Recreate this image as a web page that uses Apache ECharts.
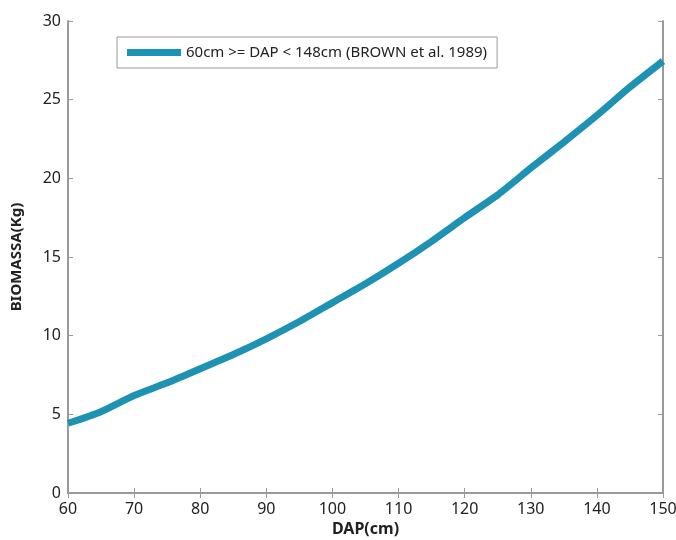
<!DOCTYPE html>
<html>
<head>
<meta charset="utf-8">
<script src="https://cdn.jsdelivr.net/npm/echarts@6/dist/echarts.min.js"></script>
<style>html,body{margin:0;padding:0;background:#fff}#c{width:676px;height:540px}</style>
</head>
<body>
<div id="c"></div>
<script>
const dap = [60, 65, 70, 75, 80, 85, 90, 95, 100, 105, 110, 115, 120, 125, 130, 135, 140, 145, 150];
const biomassa = [4.43, 5.17, 6.2, 7.0, 7.9, 8.8, 9.8, 10.9, 12.1, 13.3, 14.6, 16.0, 17.5, 18.95, 20.65, 22.3, 24.0, 25.8, 27.45];
const seriesName = '60cm >= DAP < 148cm (BROWN et al. 1989)';
const xTitle = 'DAP(cm)';
const yTitle = 'BIOMASSA(Kg)';

const font = 'Noto Sans';
const axisGrey = '#9a9a9a';
const chart = echarts.init(document.getElementById('c'), null, {renderer: 'canvas'});
const axisCommon = {
  axisLine: {show: true, lineStyle: {color: axisGrey, width: 2}},
  axisTick: {show: true, inside: true, length: 5, lineStyle: {color: axisGrey, width: 1}},
  splitLine: {show: false}
};
chart.setOption({
  animation: false,
  backgroundColor: '#fff',
  grid: {left: 68, right: 13, top: 21, bottom: 47, containLabel: false, outerBoundsMode: 'none'},
  legend: {
    left: 117, top: 37,
    padding: [8, 10, 8, 10],
    borderColor: '#999', borderWidth: 1,
    itemWidth: 54, itemHeight: 7, itemGap: 5,
    icon: 'rect',
    textStyle: {fontFamily: font, fontSize: 15, color: '#222'},
    data: [seriesName]
  },
  xAxis: [
    Object.assign({type: 'value', min: 60, max: 150, interval: 10, position: 'bottom',
      name: xTitle, nameLocation: 'middle', nameGap: 22,
      nameTextStyle: {fontFamily: font, fontSize: 16, fontWeight: 'bold', color: '#222'},
      axisLabel: {fontFamily: font, fontSize: 16, color: '#222', margin: 8}}, axisCommon),
    Object.assign({type: 'value', min: 60, max: 150, interval: 10, position: 'top',
      axisLabel: {show: false}}, axisCommon)
  ],
  yAxis: [
    Object.assign({type: 'value', min: 0, max: 30, interval: 5, position: 'left',
      name: yTitle, nameLocation: 'middle', nameGap: 44,
      nameTextStyle: {fontFamily: font, fontSize: 15, fontWeight: 'bold', color: '#222'},
      axisLabel: {fontFamily: font, fontSize: 16, color: '#222', margin: 7}}, axisCommon),
    Object.assign({type: 'value', min: 0, max: 30, interval: 5, position: 'right',
      axisLabel: {show: false}}, axisCommon)
  ],
  series: [{
    name: seriesName,
    type: 'line',
    data: dap.map((d, i) => [d, biomassa[i]]),
    showSymbol: false,
    smooth: 0.2,
    color: '#1e92b2',
    lineStyle: {width: 7, color: '#1e92b2'}
  }]
});
</script>
</body>
</html>
